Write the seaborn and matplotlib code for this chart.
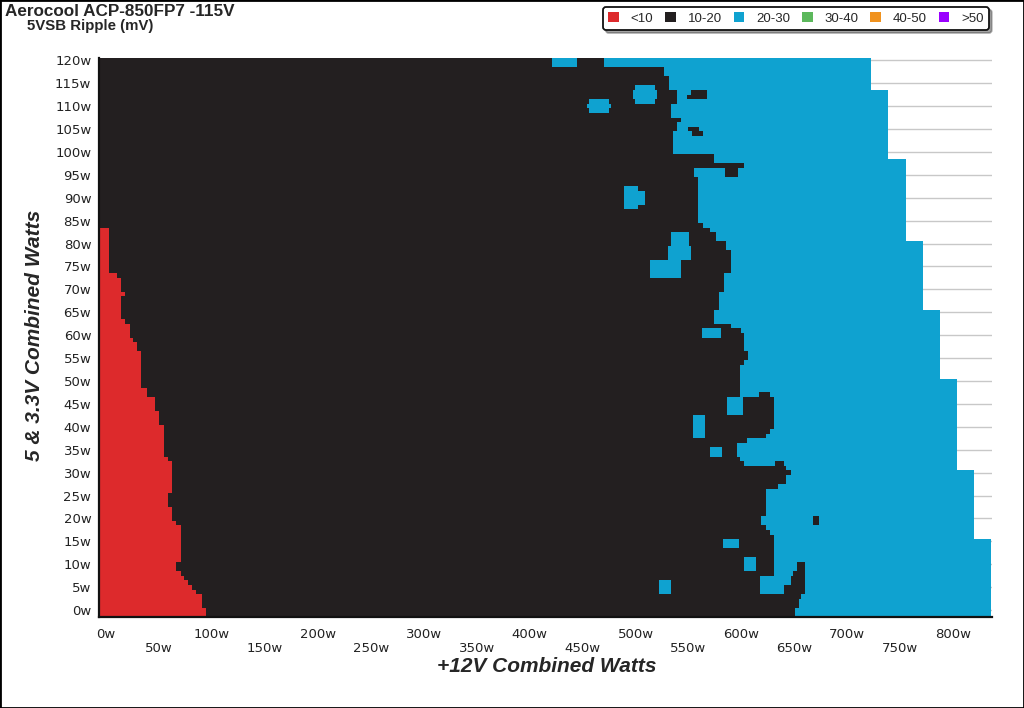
import numpy as np
import pandas as pd
import matplotlib
matplotlib.use("Agg")
import matplotlib.pyplot as plt
from matplotlib.colors import ListedColormap
from matplotlib.patches import Patch, Rectangle
import seaborn as sns

# load grid (watts)
x_watts = np.arange(-6, 837, 1)      # +12V combined
y_watts = np.arange(-1, 121, 1)      # 5 & 3.3V combined

# <10 mV region: band start row -> last +12V load still red
red_y0 = [-1, 1, 4, 5, 6, 7, 8, 9, 11, 19, 20, 23, 26, 33, 34, 41, 44, 47,
          49, 57, 59, 60, 63, 64, 69, 70, 73, 74, 84]
red_x = [94, 90, 85.5, 81.7, 77.6, 73.6, 70, 66, 70, 66, 62, 58, 62, 58, 54,
         50, 46, 38, 33.6, 29.5, 25.8, 22, 18, 14, 18, 14, 10, 2, -10]

# 10-20 mV region: band start row -> last +12V load still black
blk_y0 = [-1, 1, 3, 4, 8, 17, 18, 19, 21, 27, 28, 30, 31, 32, 33, 34, 37, 38,
          39, 40, 47, 54, 55, 57, 61, 62, 63, 66, 70, 74, 79, 81, 83, 84, 85,
          95, 97, 98, 100, 105, 107, 108, 111, 114, 117, 119]
blk_x = [650, 654, 656, 659, 630, 626, 623, 618, 623, 634, 642, 646.5, 642,
         602, 598, 595.5, 605.5, 623, 626, 630, 598, 602, 606, 602, 599, 590,
         574, 578, 583, 590, 585, 575, 570, 563, 558, 555, 602, 574, 535.5,
         539, 542.5, 533, 539, 531, 526.8, 470]

# maximum +12V load tested per band
max_y0 = [-1, 16, 31, 51, 66, 81, 99, 114]
max_x = [835, 819, 803, 787, 771, 755, 738.7, 722.5]

# 20-30 mV pockets inside the black area (x0, x1, y0, y1)
blue_x0 = [422, 457, 455, 500, 498, 490, 502, 534, 531, 514, 563, 587, 555,
           571, 583, 603, 523, 618, 618]
blue_x1 = [444, 474, 476, 518, 520, 502, 508, 550, 552, 542, 580, 601, 565,
           581, 597, 613, 533, 640, 646]
blue_y0 = [119, 109, 110, 111, 112, 88, 89, 80, 77, 73, 60, 43, 38, 34, 14,
           9, 4, 4, 6]
blue_y1 = [120, 111, 110, 114, 113, 92, 91, 82, 79, 76, 61, 46, 42, 35, 15,
           11, 6, 5, 7]

# 10-20 mV spots inside the blue area
dark_x0 = [553, 549, 550, 554, 585, 617, 632, 649, 653, 668]
dark_x1 = [567, 553, 559, 563, 596, 626, 640, 659, 659, 673]
dark_y0 = [112, 112, 105, 104, 95, 47, 32, 8, 9, 19]
dark_y1 = [113, 112, 105, 104, 96, 47, 32, 8, 10, 20]

legend_labels = ["<10", "10-20", "20-30", "30-40", "40-50", ">50"]
legend_colors = ["#dd2a2c", "#231f20", "#0fa2d0", "#5cb85c", "#f0921e", "#9a00ff"]


def band(y0, vals):
    idx = np.searchsorted(y0, y_watts, side="right") - 1
    return np.array(vals, dtype=float)[idx][:, None]


X, Y = np.meshgrid(x_watts, y_watts)
grid = np.where(X <= band(red_y0, red_x), 0.0,
                np.where(X <= band(blk_y0, blk_x), 1.0, 2.0))
for a, b, c, d in zip(blue_x0, blue_x1, blue_y0, blue_y1):
    grid[(X >= a) & (X <= b) & (Y >= c) & (Y <= d)] = 2.0
for a, b, c, d in zip(dark_x0, dark_x1, dark_y0, dark_y1):
    grid[(X >= a) & (X <= b) & (Y >= c) & (Y <= d)] = 1.0
grid[X > band(max_y0, max_x)] = np.nan

df = pd.DataFrame(grid, index=y_watts, columns=x_watts)

sns.set_theme(style="white")
plt.rcParams['font.family'] = ['DejaVu Sans']

fig = plt.figure(figsize=(10.24, 7.08), dpi=100)
ax = fig.add_axes([99 / 1024, 1 - 617 / 708, 893 / 1024, 559 / 708])

cmap = ListedColormap(legend_colors[:3])
sns.heatmap(df, cmap=cmap, vmin=-0.5, vmax=2.5, cbar=False, ax=ax,
            xticklabels=False, yticklabels=False, rasterized=True)
ax.set_ylim(0, len(y_watts))
ax.set_xlim(0, len(x_watts))
ax.set_xlabel("")
ax.set_ylabel("")

# ticks in data watts -> heatmap cell coordinates
xmaj = np.arange(0, 801, 50)
xmin = np.arange(0, 826, 12.5)
ymaj = np.arange(0, 121, 5)
ymin = np.arange(-1, 121, 1)
ax.set_xticks(xmaj - x_watts[0] + 0.5)
ax.set_xticks(xmin - x_watts[0] + 0.5, minor=True)
ax.set_xticklabels([("" if i % 2 == 0 else "\n") + f"{v}w"
                    for i, v in enumerate(xmaj)], linespacing=1.1)
ax.set_yticks(ymaj - y_watts[0] + 0.5)
ax.set_yticks(ymin - y_watts[0] + 0.5, minor=True)
ax.set_yticklabels([f"{v}w" for v in ymaj])

ax.tick_params(axis="both", which="both", direction="out", colors="#222222",
               labelsize=9.5)
ax.tick_params(axis="x", which="major", length=5, width=1, pad=3)
ax.tick_params(axis="x", which="minor", length=3, width=1)
ax.tick_params(axis="y", which="major", length=4, width=1, pad=1.5)
ax.tick_params(axis="y", which="minor", length=2, width=0.8)

ax.set_axisbelow(True)
ax.yaxis.grid(True, which="major", color="#c8c8c8", lw=1)
ax.xaxis.grid(False)
for s in ["left", "bottom"]:
    ax.spines[s].set_visible(True)
    ax.spines[s].set_color("#111111")
    ax.spines[s].set_linewidth(1.6)
for s in ["top", "right"]:
    ax.spines[s].set_visible(False)

fig.text(5 / 1024, 1 - 4 / 708, "Aerocool ACP-850FP7 -115V", ha="left", va="top",
         fontsize=12.3, fontweight="bold", family="Liberation Sans")
fig.text(27 / 1024, 1 - 19 / 708, "5VSB Ripple (mV)", ha="left", va="top",
         fontsize=10.8, fontweight="bold", family="Liberation Sans")
fig.text(547 / 1024, 1 - 666 / 708, "+12V Combined Watts", ha="center", va="center",
         fontsize=15, fontweight="bold", fontstyle="italic", family="Liberation Sans")
fig.text(35 / 1024, 1 - 335 / 708, "5 & 3.3V Combined Watts", ha="center",
         va="center", rotation=90, fontsize=15, fontweight="bold",
         fontstyle="italic", family="Liberation Sans")

handles = [Patch(facecolor=c, edgecolor="none", label=l)
           for l, c in zip(legend_labels, legend_colors)]
leg = fig.legend(handles=handles, loc="center", ncol=6,
                 bbox_to_anchor=(796 / 1024, 1 - 18.5 / 708),
                 bbox_transform=fig.transFigure,
                 prop={"family": "Liberation Sans", "size": 9.5}, frameon=True,
                 fancybox=True, shadow=True, framealpha=1,
                 handlelength=0.8, handleheight=0.8, handletextpad=0.9,
                 columnspacing=0.9, borderpad=0.4)
leg.get_frame().set_edgecolor("#111111")
leg.get_frame().set_linewidth(1.3)

fig.patches.append(Rectangle((0, 0), 1, 1, transform=fig.transFigure,
                             fill=False, edgecolor="#000000", lw=2))

fig.savefig("out.png", dpi=100)
